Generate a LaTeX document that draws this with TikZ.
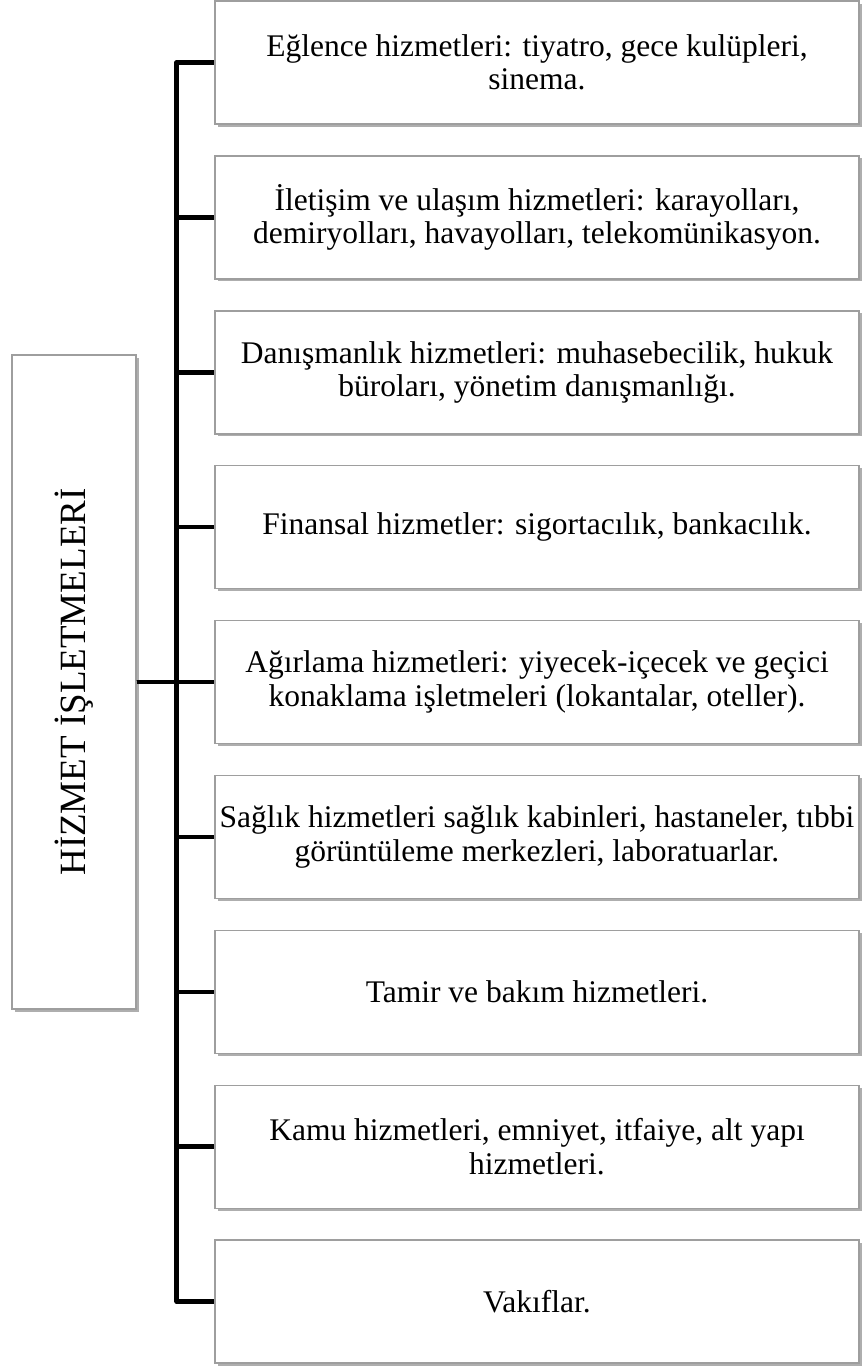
\documentclass[tikz,border=0pt]{standalone}
\usepackage{fontspec}
\setmainfont{Liberation Serif}
\usetikzlibrary{shadows}
\begin{document}
\begin{tikzpicture}[x=1pt,y=-1pt,
  card/.style={draw=black!38, line width=1.4pt, fill=white,
    drop shadow={shadow xshift=2.5pt, shadow yshift=-2.5pt, fill=black!45, opacity=0.7},
    align=center, inner sep=0pt, font=\fontsize{31.5}{33.5}\selectfont},
  itembox/.style={card, minimum width=644pt, minimum height=123pt},
  link/.style={line width=4.5pt, line join=round, draw=black}]
\useasboundingbox (0,0) rectangle (862,1369);
% main category, text running bottom to top
\node[card, minimum width=124pt, minimum height=654pt] (root) at (74,682)
  {\rotatebox{90}{\fontsize{37}{40}\selectfont HİZMET İŞLETMELERİ}};
% service branches
\node[itembox] (b1) at (537,62.5) {Eğlence hizmetleri: tiyatro, gece kulüpleri,\\ sinema.};
\node[itembox] (b2) at (537,217.4) {İletişim ve ulaşım hizmetleri: karayolları,\\ demiryolları, havayolları, telekomünikasyon.};
\node[itembox] (b3) at (537,372.3) {Danışmanlık hizmetleri: muhasebecilik, hukuk\\ büroları, yönetim danışmanlığı.};
\node[itembox] (b4) at (537,527.2) {Finansal hizmetler: sigortacılık, bankacılık.};
\node[itembox] (b5) at (537,682) {Ağırlama hizmetleri: yiyecek-içecek ve geçici\\ konaklama işletmeleri (lokantalar, oteller).};
\node[itembox] (b6) at (537,836.9) {Sağlık hizmetleri sağlık kabinleri, hastaneler, tıbbi\\ görüntüleme merkezleri, laboratuarlar.};
\node[itembox] (b7) at (537,991.8) {Tamir ve bakım hizmetleri.};
\node[itembox] (b8) at (537,1146.7) {Kamu hizmetleri, emniyet, itfaiye, alt yapı\\ hizmetleri.};
\node[itembox] (b9) at (537,1301.5) {Vakıflar.};
% tree connectors through the common spine
\coordinate (spine) at ([xshift=40pt]root.east);
\foreach \b in {b1,b2,b3,b4,b5,b6,b7,b8,b9}
  \draw[link] (root.east) -- (spine) |- (\b.west);
\end{tikzpicture}
\end{document}
